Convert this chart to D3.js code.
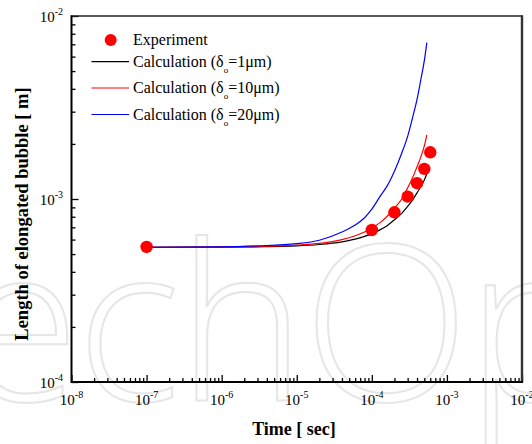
<!DOCTYPE html>
<html lang="en">
<head>
  <meta charset="utf-8">
  <title>Length of elongated bubble vs time</title>
  <script type="text/javascript" src="https://d3js.org/d3.v7.min.js"></script>
</head>
<style>
body {
  margin: 0;
  background: #fff;
}
.axis path, .axis line {
  stroke: #000;
}
.curve {
  fill: none;
  stroke-width: 1.2px;
}
</style>
<body>
<script type="text/javascript">
// experiment points
var expT = [1e-7, 1e-4, 2e-4, 3e-4, 4e-4, 5e-4, 6e-4];
var expL = [5.47e-4, 6.77e-4, 8.46e-4, 1.03e-3, 1.22e-3, 1.46e-3, 1.80e-3];

// calculated curves at these times
var calcT  = [1e-7, 1e-6, 3e-6, 1e-5, 2e-5, 4e-5, 6e-5, 8e-5, 1e-4, 1.3e-4, 1.6e-4, 2e-4, 2.5e-4, 3e-4, 3.5e-4, 4e-4, 4.5e-4, 5e-4, 5.4e-4];
var calc1  = [5.45e-4, 5.46e-4, 5.48e-4, 5.54e-4, 5.64e-4, 5.83e-4, 6.03e-4, 6.25e-4, 6.47e-4, 6.8e-4, 7.15e-4, 7.7e-4, 8.35e-4, 9.1e-4, 9.9e-4, 1.08e-3, 1.17e-3, 1.27e-3, 1.37e-3];
var calc10 = [5.45e-4, 5.47e-4, 5.5e-4, 5.6e-4, 5.72e-4, 6.0e-4, 6.3e-4, 6.6e-4, 6.95e-4, 7.45e-4, 8.05e-4, 8.9e-4, 1.0e-3, 1.15e-3, 1.31e-3, 1.5e-3, 1.7e-3, 1.95e-3, 2.24e-3];
var calc20 = [5.45e-4, 5.48e-4, 5.55e-4, 5.7e-4, 5.95e-4, 6.6e-4, 7.2e-4, 7.9e-4, 8.8e-4, 1.04e-3, 1.18e-3, 1.42e-3, 1.78e-3, 2.2e-3, 2.8e-3, 3.5e-3, 4.5e-3, 5.7e-3, 7.15e-3];

var seriesNames = ["Experiment", "Calculation (δ", "Calculation (δ", "Calculation (δ"];
var seriesSub = ["", "=1μm)", "=10μm)", "=20μm)"];
var seriesColors = ["#ff0000", "#000000", "#ff0000", "#0000ff"];

var xTickExp = [-8, -7, -6, -5, -4, -3, -2];
var yTickExp = [-4, -3, -2];

var w = 532, h = 444;
var mLeft = 71.5, mRight = 522, mTop = 16, mBottom = 382;

var svg = d3.select("body").append("svg")
  .attr("width", w)
  .attr("height", h)
  .attr("font-family", "'Liberation Serif', 'Times New Roman', serif");

// faint watermark behind the plot
svg.append("text")
  .attr("x", -40)
  .attr("y", 401)
  .attr("font-family", "'Open Sans', sans-serif")
  .attr("font-weight", 300)
  .attr("font-size", 218)
  .attr("letter-spacing", -3)
  .attr("fill", "none")
  .attr("stroke", "#e6e6e6")
  .attr("stroke-width", 2)
  .text("echOpen");

var x = d3.scaleLog().domain([1e-8, 1e-2]).range([mLeft, mRight]);
var y = d3.scaleLog().domain([1e-4, 1e-2]).range([mBottom, mTop]);

// minor ticks: 2..9 in every decade
var xMinor = [], yMinor = [];
xTickExp.slice(0, -1).forEach(function(e) {
  for (var k = 2; k <= 9; k++) xMinor.push(k * Math.pow(10, e));
});
yTickExp.slice(0, -1).forEach(function(e) {
  for (var k = 2; k <= 9; k++) yMinor.push(k * Math.pow(10, e));
});
var xMajor = xTickExp.map(function(e) { return Math.pow(10, e); });
var yMajor = yTickExp.map(function(e) { return Math.pow(10, e); });

function addAxis(gen, vals, size, tx) {
  var g = svg.append("g")
    .attr("class", "axis")
    .attr("transform", tx)
    .call(gen.tickValues(vals).tickSize(-size).tickSizeOuter(0).tickFormat(""));
  g.select(".domain").remove();
  g.selectAll("line").attr("stroke-width", 1.3);
}
addAxis(d3.axisBottom(x), xMinor, 4, "translate(0," + mBottom + ")");
addAxis(d3.axisBottom(x), xMajor, 7, "translate(0," + mBottom + ")");
addAxis(d3.axisLeft(y), yMinor, 4, "translate(" + mLeft + ",0)");
addAxis(d3.axisLeft(y), yMajor, 7, "translate(" + mLeft + ",0)");

// frame
svg.append("line").attr("x1", mLeft).attr("x2", mRight).attr("y1", mTop).attr("y2", mTop)
  .attr("stroke", "#222").attr("stroke-width", 1.5);
svg.append("line").attr("x1", mRight).attr("x2", mRight).attr("y1", mTop - 0.75).attr("y2", mBottom)
  .attr("stroke", "#333").attr("stroke-width", 2.4);
svg.append("line").attr("x1", mLeft).attr("x2", mLeft).attr("y1", mTop - 0.75).attr("y2", mBottom + 1)
  .attr("stroke", "#000").attr("stroke-width", 2);
svg.append("line").attr("x1", mLeft).attr("x2", mRight + 1).attr("y1", mBottom).attr("y2", mBottom)
  .attr("stroke", "#000").attr("stroke-width", 2);

// tick labels with superscript exponents
svg.append("g").selectAll("text")
  .data(xTickExp)
  .enter()
  .append("text")
  .attr("x", function(d) { return x(Math.pow(10, d)); })
  .attr("y", 405)
  .attr("text-anchor", "middle")
  .attr("font-size", 15)
  .each(function(d) {
    var t = d3.select(this);
    t.append("tspan").text("10");
    t.append("tspan").attr("font-size", 10).attr("dy", -7).text(d);
  });

svg.append("g").selectAll("text")
  .data(yTickExp)
  .enter()
  .append("text")
  .attr("x", 63)
  .attr("y", function(d) { return y(Math.pow(10, d)) + 6; })
  .attr("text-anchor", "end")
  .attr("font-size", 15)
  .each(function(d) {
    var t = d3.select(this);
    t.append("tspan").text("10");
    t.append("tspan").attr("font-size", 10).attr("dy", -7).text(d);
  });

// axis titles
svg.append("text")
  .attr("x", 294)
  .attr("y", 435)
  .attr("text-anchor", "middle")
  .attr("font-size", 18)
  .attr("font-weight", "bold")
  .text("Time [ sec]");

svg.append("text")
  .attr("transform", "translate(28,214) rotate(-90)")
  .attr("text-anchor", "middle")
  .attr("font-size", 18.5)
  .attr("font-weight", "bold")
  .text("Length of elongated bubble [ m]");

// curves
var line = d3.line()
  .x(function(d) { return x(d[0]); })
  .y(function(d) { return y(d[1]); })
  .curve(d3.curveMonotoneX);

[calc1, calc10, calc20].forEach(function(vals, i) {
  svg.append("path")
    .attr("class", "curve")
    .attr("stroke", seriesColors[i + 1])
    .attr("d", line(calcT.map(function(t, j) { return [t, vals[j]]; })));
});

// experiment dots
svg.append("g").selectAll("circle")
  .data(expT.map(function(t, i) { return [t, expL[i]]; }))
  .enter()
  .append("circle")
  .attr("cx", function(d) { return x(d[0]); })
  .attr("cy", function(d) { return y(d[1]); })
  .attr("r", 6.2)
  .attr("fill", seriesColors[0]);

// legend
var legendY = [40, 61.7, 88, 114.5];
var lg = svg.append("g");
seriesNames.forEach(function(name, i) {
  if (i === 0) {
    lg.append("circle").attr("cx", 110.7).attr("cy", legendY[i]).attr("r", 6).attr("fill", seriesColors[i]);
  } else {
    lg.append("line").attr("x1", 91.5).attr("x2", 129).attr("y1", legendY[i]).attr("y2", legendY[i])
      .attr("stroke", seriesColors[i]).attr("stroke-width", 1.2);
  }
  var t = lg.append("text")
    .attr("x", 133)
    .attr("y", legendY[i] + 5)
    .attr("font-size", 16);
  t.append("tspan").text(name);
  if (seriesSub[i]) {
    t.append("tspan").attr("font-size", 9).attr("dy", 6).text("o");
    t.append("tspan").attr("dy", -6).text(seriesSub[i]);
  }
});
</script>
</body>
</html>
